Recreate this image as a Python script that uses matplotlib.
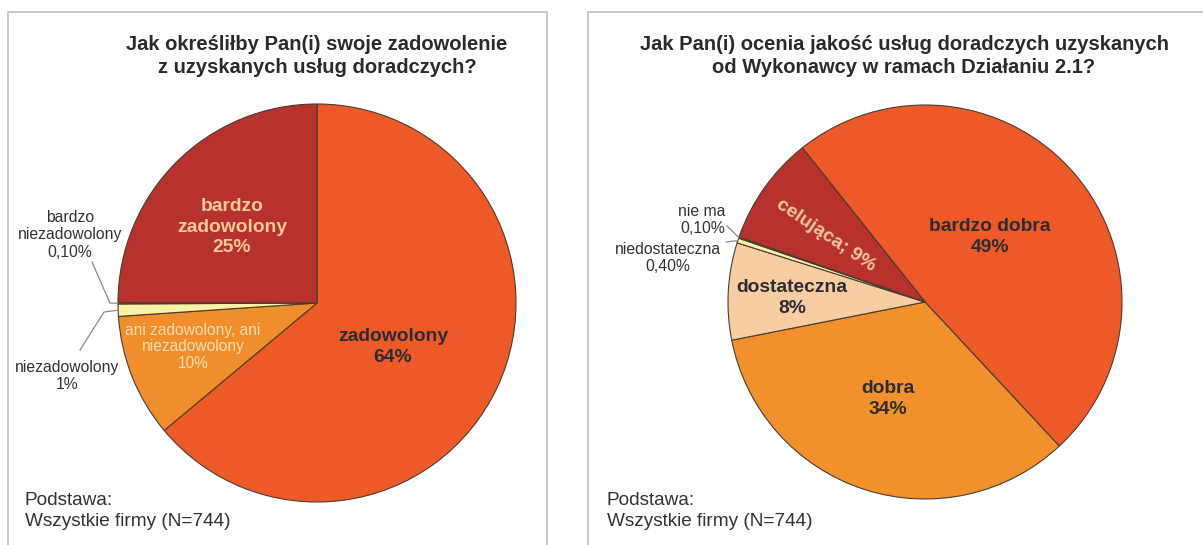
import matplotlib
matplotlib.use("Agg")
import matplotlib.pyplot as plt
import numpy as np

plt.rcParams['font.family'] = ['Liberation Sans', 'DejaVu Sans']

W, H = 1203, 545

# ---------------- data ----------------
left_title = "Jak określiłby Pan(i) swoje zadowolenie\nz uzyskanych usług doradczych?"
left_cats = ["zadowolony", "ani zadowolony, ani\nniezadowolony", "niezadowolony",
             "bardzo\nniezadowolony", "bardzo\nzadowolony"]
left_vals = [64, 10, 1, 0.1, 25]
left_pct = ["64%", "10%", "1%", "0,10%", "25%"]
left_colors = ["#EE5A27", "#F08E2C", "#F8F2A6", "#E9DFA8", "#B7322D"]

right_title = "Jak Pan(i) ocenia jakość usług doradczych uzyskanych\nod Wykonawcy w ramach Działaniu 2.1?"
right_cats = ["bardzo dobra", "dobra", "dostateczna", "niedostateczna", "nie ma", "celująca"]
right_vals = [49, 34, 8, 0.4, 0.1, 9]
right_pct = ["49%", "34%", "8%", "0,40%", "0,10%", "9%"]
right_colors = ["#EE5A27", "#F2912C", "#F9CDA2", "#F8F2A6", "#E9DFA8", "#B7322D"]

footer = "Podstawa:\nWszystkie firmy (N=744)"

# ---------------- figure ----------------
fig = plt.figure(figsize=(W / 100, H / 100), dpi=100)
ax = fig.add_axes([0, 0, 1, 1])


def Y(y):
    return H - y


dark = "#2C2C34"
peach = "#F7C898"
gray_txt = "#333333"
edge = "#4A3B30"

wl, _ = ax.pie(left_vals, colors=left_colors, startangle=90, counterclock=False,
               center=(317, Y(303)), radius=199,
               wedgeprops=dict(edgecolor=edge, linewidth=0.8))
wr, _ = ax.pie(right_vals, colors=right_colors, startangle=128.5, counterclock=False,
               center=(925, Y(302)), radius=197,
               wedgeprops=dict(edgecolor=edge, linewidth=0.8))

ax.set_xlim(0, W)
ax.set_ylim(0, H)
ax.set_aspect('equal')
ax.axis('off')

# panel borders
border = "#C8C8CC"
ax.plot([8, 8, 547, 547], [Y(545), Y(12), Y(12), Y(545)], color=border, lw=1.4)
ax.plot([588, 588, W], [Y(545), Y(12), Y(12)], color=border, lw=1.4)

# titles
tkw = dict(ha='center', va='center', fontsize=14.5, fontweight='bold', color="#2A2A2A",
           linespacing=1.3)
ax.text(317, Y(56), left_title, **tkw)
ax.text(904, Y(56), right_title, **tkw)

# footers
fkw = dict(ha='left', va='center', fontsize=13.7, color=gray_txt, linespacing=1.25)
ax.text(25, Y(511), footer, **fkw)
ax.text(607, Y(511), footer, **fkw)

bold = dict(ha='center', va='center', fontweight='bold', fontsize=13.9, linespacing=1.25)
small = dict(ha='center', va='center', fontsize=11.3, color=gray_txt, linespacing=1.2)

# left labels
ax.text(393, Y(347), left_cats[0] + "\n" + left_pct[0], color=dark, **bold)
ax.text(232, Y(227), left_cats[4] + "\n" + left_pct[4], color=peach, **bold)
ax.text(193, Y(347), left_cats[1] + "\n" + left_pct[1], ha='center', va='center',
        fontsize=11.2, color="#FBDDB0", linespacing=1.1)
ax.text(70, Y(235), left_cats[3] + "\n" + left_pct[3], **small)
ax.text(67, Y(376), left_cats[2] + "\n" + left_pct[2], **small)


def edge_point(w, frac=1.0):
    th = np.deg2rad((w.theta1 + w.theta2) / 2)
    cx, cy = w.center
    return cx + w.r * frac * np.cos(th), cy + w.r * frac * np.sin(th)


lead = dict(color="#8A8A8A", lw=0.9)
ex, ey = edge_point(wl[3])
ax.plot([92, 110, ex], [Y(262), Y(303), ey], **lead)
ex, ey = edge_point(wl[2])
ax.plot([80, 104, ex], [Y(350), Y(312), ey], **lead)

# right labels
ax.text(990, Y(237), right_cats[0] + "\n" + right_pct[0], color=dark, **bold)
ax.text(888, Y(399), right_cats[1] + "\n" + right_pct[1], color=dark, **bold)
ax.text(792, Y(298), right_cats[2] + "\n" + right_pct[2], color=dark, **bold)
ax.text(826, Y(235), right_cats[5] + "; " + right_pct[5], color=peach, rotation=-34,
        rotation_mode='anchor', **bold)
ax.text(725, Y(220), right_cats[4] + "\n" + right_pct[4], ha='right', va='center',
        fontsize=11.3, color=gray_txt, linespacing=1.2)
ax.text(668, Y(258), right_cats[3] + "\n" + right_pct[3], **small)

ex, ey = edge_point(wr[4])
ax.plot([727, ex], [Y(226), ey], **lead)
ex, ey = edge_point(wr[3])
ax.plot([726, ex], [Y(242), ey], **lead)

fig.savefig("out.png", dpi=100, facecolor="white")
